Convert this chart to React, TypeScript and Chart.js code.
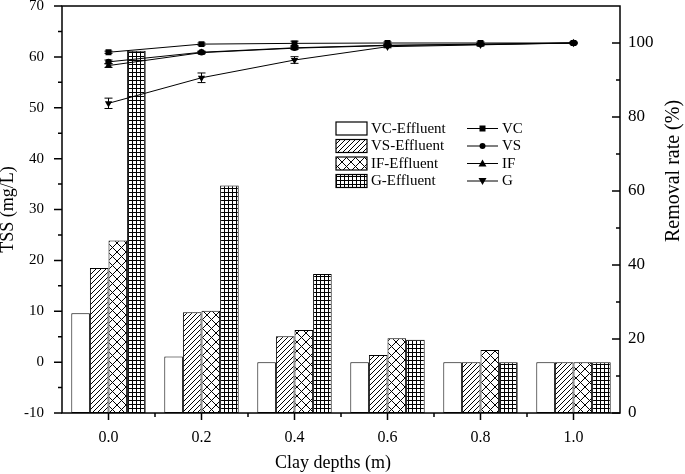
import React, { useEffect, useRef } from 'react';
import { Chart, registerables } from 'chart.js';

Chart.register(...registerables);

const categories = ['0.0', '0.2', '0.4', '0.6', '0.8', '1.0'];

const barLabels = ['VC-Effluent', 'VS-Effluent', 'IF-Effluent', 'G-Effluent'];
const vcEffluent = [9.6, 1.1, 0, 0, 0, 0];
const vsEffluent = [18.5, 9.8, 5.1, 1.4, 0, 0];
const ifEffluent = [23.9, 10.1, 6.3, 4.7, 2.4, 0];
const gEffluent = [61.2, 34.7, 17.3, 4.4, 0, 0];

const lineLabels = ['VC', 'VS', 'IF', 'G'];
const vcRemoval = [97.5, 99.7, 99.9, 100, 100, 100];
const vsRemoval = [94.9, 97.5, 98.7, 99.4, 99.7, 100];
const ifRemoval = [93.9, 97.4, 98.6, 99.3, 99.6, 100];
const gRemoval = [83.7, 90.6, 95.4, 99.0, 99.5, 100];

const vcErr = [0.3, 0.3, 0.6, 0.3, 0.3, 0.2];
const vsErr = [0.5, 0.3, 0.3, 0.3, 0.2, 0.2];
const ifErr = [0.5, 0.3, 0.3, 0.3, 0.2, 0.2];
const gErr = [1.4, 1.3, 0.9, 0.3, 0.3, 0.2];

const tssMin = -10;
const tssMax = 70;
const rateMin = 0;
const rateMax = 110;

const SERIF = "'Liberation Serif', 'Times New Roman', serif";

function makePattern(kind: string): CanvasPattern | string {
  const c = document.createElement('canvas');
  const s = kind === 'hatch' ? 5 : kind === 'cross' ? 9 : 4;
  c.width = s;
  c.height = s;
  const g = c.getContext('2d')!;
  g.fillStyle = '#fff';
  g.fillRect(0, 0, s, s);
  g.strokeStyle = '#000';
  g.fillStyle = '#000';
  g.lineWidth = 1;
  if (kind === 'hatch') {
    g.beginPath();
    g.moveTo(-1, s + 1);
    g.lineTo(s + 1, -1);
    g.moveTo(-1, 1);
    g.lineTo(1, -1);
    g.moveTo(s - 1, s + 1);
    g.lineTo(s + 1, s - 1);
    g.stroke();
  } else if (kind === 'cross') {
    g.beginPath();
    g.moveTo(0, 0);
    g.lineTo(s, s);
    g.moveTo(s, 0);
    g.lineTo(0, s);
    g.stroke();
  } else if (kind === 'grid') {
    g.fillRect(0, 0, s, 1);
    g.fillRect(0, 0, 1, s);
  } else {
    return '#fff';
  }
  const p = g.createPattern(c, 'repeat');
  return p || '#fff';
}

const errorBarPlugin = {
  id: 'errorBars',
  afterDatasetsDraw(chart: any) {
    const { ctx } = chart;
    const yScale = chart.scales.y1;
    ctx.save();
    ctx.strokeStyle = '#000';
    ctx.lineWidth = 1;
    chart.data.datasets.forEach((ds: any, i: number) => {
      if (!ds.errors) return;
      const meta = chart.getDatasetMeta(i);
      meta.data.forEach((pt: any, j: number) => {
        const v = ds.data[j];
        const e = ds.errors[j];
        const x = pt.x;
        const y0 = yScale.getPixelForValue(v - e);
        const y1 = yScale.getPixelForValue(v + e);
        ctx.beginPath();
        ctx.moveTo(x, y0);
        ctx.lineTo(x, y1);
        ctx.moveTo(x - 4, y0);
        ctx.lineTo(x + 4, y0);
        ctx.moveTo(x - 4, y1);
        ctx.lineTo(x + 4, y1);
        ctx.stroke();
      });
    });
    ctx.restore();
  },
};

const framePlugin = {
  id: 'frame',
  afterDraw(chart: any) {
    const { ctx, chartArea: a, scales } = chart;
    ctx.save();
    ctx.strokeStyle = '#000';
    ctx.lineWidth = 1.5;
    ctx.strokeRect(a.left, a.top, a.right - a.left, a.bottom - a.top);
    ctx.beginPath();
    for (let v = tssMin; v <= tssMax; v += 5) {
      const p = scales.y.getPixelForValue(v);
      const len = v % 10 === 0 ? 8 : 4;
      ctx.moveTo(a.left - len, p);
      ctx.lineTo(a.left, p);
    }
    for (let v = rateMin; v <= 100; v += 10) {
      const p = scales.y1.getPixelForValue(v);
      const len = v % 20 === 0 ? 8 : 4;
      ctx.moveTo(a.right - len, p);
      ctx.lineTo(a.right, p);
    }
    const xs = scales.x;
    for (let i = 0; i < categories.length; i++) {
      const p = xs.getPixelForValue(i);
      ctx.moveTo(p, a.bottom);
      ctx.lineTo(p, a.bottom + 7);
    }
    for (let i = 1; i < categories.length; i++) {
      const p = xs.getPixelForValue(i - 0.5);
      ctx.moveTo(p, a.bottom);
      ctx.lineTo(p, a.bottom + 4);
    }
    ctx.stroke();

    ctx.fillStyle = '#000';
    ctx.font = `18px ${SERIF}`;
    ctx.textAlign = 'center';
    ctx.textBaseline = 'middle';
    ctx.fillText('Clay depths (m)', 333, 463);
    ctx.save();
    ctx.translate(674, 171);
    ctx.rotate(-Math.PI / 2);
    ctx.font = `20px ${SERIF}`;
    ctx.fillText('Removal rate (%)', 0, 0);
    ctx.restore();

    const bars = chart.data.datasets.filter((d: any) => d.type === 'bar');
    const lines = chart.data.datasets.filter((d: any) => d.type === 'line');
    ctx.font = `15px ${SERIF}`;
    ctx.textAlign = 'left';
    ctx.textBaseline = 'middle';
    const rowY = [128.5, 146, 163.5, 181];
    bars.forEach((d: any, i: number) => {
      const cy = rowY[i];
      ctx.fillStyle = d.backgroundColor;
      ctx.fillRect(336, cy - 6.5, 31, 13);
      ctx.lineWidth = 1.2;
      ctx.strokeStyle = '#000';
      ctx.strokeRect(336, cy - 6.5, 31, 13);
      ctx.fillStyle = '#000';
      ctx.fillText(d.label, 371, cy + 0.5);
    });
    lines.forEach((d: any, i: number) => {
      const cy = rowY[i];
      ctx.strokeStyle = '#000';
      ctx.lineWidth = 1;
      ctx.beginPath();
      ctx.moveTo(467, cy);
      ctx.lineTo(498, cy);
      ctx.stroke();
      ctx.fillStyle = '#000';
      const x = 482.5;
      if (d.pointStyle === 'rect') {
        ctx.fillRect(x - 3, cy - 3, 6, 6);
      } else if (d.pointStyle === 'circle') {
        ctx.beginPath();
        ctx.arc(x, cy, 3, 0, Math.PI * 2);
        ctx.fill();
      } else if (d.pointStyle === 'triangle' && !d.rotation) {
        ctx.beginPath();
        ctx.moveTo(x, cy - 4);
        ctx.lineTo(x + 4, cy + 3);
        ctx.lineTo(x - 4, cy + 3);
        ctx.closePath();
        ctx.fill();
      } else {
        ctx.beginPath();
        ctx.moveTo(x, cy + 4);
        ctx.lineTo(x + 4, cy - 3);
        ctx.lineTo(x - 4, cy - 3);
        ctx.closePath();
        ctx.fill();
      }
      ctx.fillText(d.label, 502, cy + 0.5);
    });
    ctx.restore();
  },
};

export default function App() {
  const ref = useRef<HTMLCanvasElement | null>(null);

  useEffect(() => {
    if (!ref.current) return;
    const patterns = [makePattern('plain'), makePattern('hatch'), makePattern('cross'), makePattern('grid')];
    const barData = [vcEffluent, vsEffluent, ifEffluent, gEffluent];
    const lineData = [vcRemoval, vsRemoval, ifRemoval, gRemoval];
    const errData = [vcErr, vsErr, ifErr, gErr];
    const styles = [
      { pointStyle: 'rect', pointRadius: 4.2, rotation: 0 },
      { pointStyle: 'circle', pointRadius: 3.2, rotation: 0 },
      { pointStyle: 'triangle', pointRadius: 4.2, rotation: 0 },
      { pointStyle: 'triangle', pointRadius: 4.2, rotation: 180 },
    ];

    const datasets: any[] = [];
    barData.forEach((d, i) => {
      datasets.push({
        type: 'bar',
        label: barLabels[i],
        data: d,
        yAxisID: 'y',
        base: tssMin,
        backgroundColor: patterns[i],
        borderColor: '#000',
        borderWidth: 1,
        borderSkipped: false,
        categoryPercentage: 0.8,
        barPercentage: 1.0,
        order: 2,
      });
    });
    lineData.forEach((d, i) => {
      datasets.push({
        type: 'line',
        label: lineLabels[i],
        data: d,
        errors: errData[i],
        yAxisID: 'y1',
        borderColor: '#000',
        borderWidth: 1,
        backgroundColor: '#000',
        pointBackgroundColor: '#000',
        pointBorderColor: '#000',
        pointBorderWidth: 0,
        pointStyle: styles[i].pointStyle,
        pointRadius: styles[i].pointRadius,
        rotation: styles[i].rotation,
        tension: 0,
        fill: false,
        order: 1,
      });
    });

    const chart = new Chart(ref.current, {
      type: 'bar',
      data: { labels: categories, datasets },
      options: {
        animation: false,
        responsive: false,
        maintainAspectRatio: false,
        layout: { padding: { top: 6, left: 0, right: 0, bottom: 0 } },
        plugins: {
          legend: { display: false },
          tooltip: { enabled: false },
        },
        scales: {
          x: {
            type: 'category',
            offset: true,
            grid: { display: false, drawTicks: false },
            border: { display: false },
            ticks: { font: { family: SERIF, size: 16 }, color: '#000', padding: 15, maxRotation: 0 },
            afterFit: (s: any) => {
              s.height = 61;
              s.paddingLeft = 0;
              s.paddingRight = 0;
            },
          },
          y: {
            type: 'linear',
            position: 'left',
            min: tssMin,
            max: tssMax,
            grid: { display: false, drawTicks: false },
            border: { display: false },
            ticks: { stepSize: 10, font: { family: SERIF, size: 15 }, color: '#000', padding: 18 },
            title: {
              display: true,
              text: 'TSS (mg/L)',
              font: { family: SERIF, size: 18, lineHeight: 0.9 },
              color: '#000',
              padding: { top: 0, bottom: 0 },
            },
            afterFit: (s: any) => {
              s.width = 62;
              s.paddingTop = 0;
              s.paddingBottom = 0;
            },
          },
          y1: {
            type: 'linear',
            position: 'right',
            min: rateMin,
            max: rateMax,
            grid: { display: false, drawTicks: false },
            border: { display: false },
            ticks: { stepSize: 20, includeBounds: false, font: { family: SERIF, size: 17 }, color: '#000', padding: 8 },
            afterFit: (s: any) => {
              s.width = 65;
              s.paddingTop = 0;
              s.paddingBottom = 0;
            },
          },
        },
      } as any,
      plugins: [errorBarPlugin, framePlugin],
    });
    return () => chart.destroy();
  }, []);

  return (
    <div style={{ position: 'absolute', left: 0, top: 0, width: 685, height: 474, background: '#fff' }}>
      <canvas ref={ref} width={685} height={474} style={{ display: 'block' }} />
    </div>
  );
}
